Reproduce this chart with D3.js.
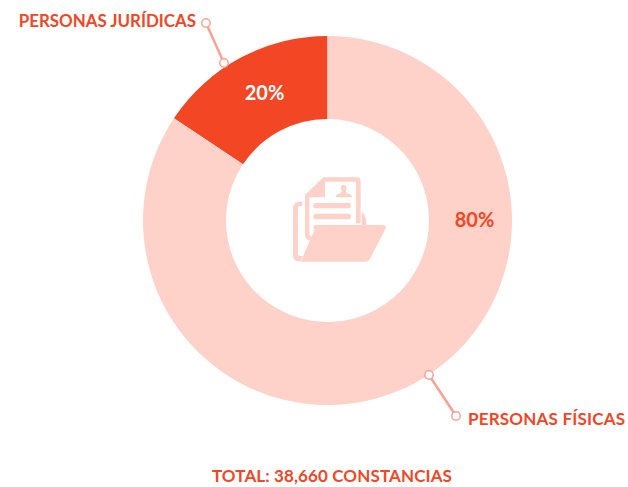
<!DOCTYPE html>
<html><head><meta charset="utf-8">
<script src="https://cdn.jsdelivr.net/npm/d3@7"></script>
<style>html,body{margin:0;padding:0;background:#fff}svg{display:block}text{font-family:Lato,sans-serif;font-weight:700}</style>
</head><body><svg id="c" width="628" height="487"></svg>
<script>
const categories = ["PERSONAS JURÍDICAS", "PERSONAS FÍSICAS"];
const drawnShares = [15.65, 84.35];
const percentLabels = ["20%", "80%"];
const sliceColors = ["#F24624", "#FED2C9"];
const labelColors = ["#FFFFFF", "#F24624"];
const totalLabel = "TOTAL: 38,660 CONSTANCIAS";

const W = 628, H = 487, cx = 327.5, cy = 220.5, R = 184.5, r = 101.5;
const svg = d3.select("#c");
const g = svg.append("g").attr("transform", `translate(${cx},${cy})`);
const pie = d3.pie().sort(null)(drawnShares);
const shift = -2 * Math.PI * drawnShares[0] / d3.sum(drawnShares);
const arc = d3.arc().innerRadius(r).outerRadius(R);
const arcs = pie.map(d => ({...d, startAngle: d.startAngle + shift, endAngle: d.endAngle + shift}));
g.selectAll("path.slice").data(arcs).join("path").attr("class","slice")
  .attr("d", arc).attr("fill", (d,i) => sliceColors[i]);

const labelPos = [[264.5, 92.5], [474.5, 219.5]];
svg.selectAll("text.pct").data(percentLabels).join("text").attr("class","pct")
  .attr("x",(d,i)=>labelPos[i][0]).attr("y",(d,i)=>labelPos[i][1]).attr("dy","0.35em")
  .attr("text-anchor","middle").attr("font-size",20)
  .attr("fill",(d,i)=>labelColors[i]).text(d=>d);

const leaders = [[206,23,224,63],[456,416,429,375]];
const lc = "#F9A294";
const lg = svg.append("g");
lg.selectAll("line").data(leaders).join("line")
  .attr("x1",d=>d[0]).attr("y1",d=>d[1]).attr("x2",d=>d[2]).attr("y2",d=>d[3])
  .attr("stroke",lc).attr("stroke-width",2.5);
lg.selectAll("circle").data(leaders.flatMap(d=>[[d[0],d[1]],[d[2],d[3]]])).join("circle")
  .attr("cx",d=>d[0]).attr("cy",d=>d[1]).attr("r",4.2).attr("fill","#fff")
  .attr("stroke",lc).attr("stroke-width",1.5);

svg.append("text").attr("x",196).attr("y",21).attr("dy","0.35em").attr("text-anchor","end")
  .attr("font-size",16.9).attr("fill","#F24624").text(categories[0]);
svg.append("text").attr("x",468).attr("y",419.5).attr("dy","0.35em")
  .attr("font-size",17).attr("letter-spacing",0.2).attr("fill","#F24624").text(categories[1]);
svg.append("text").attr("x",332).attr("y",476.5).attr("dy","0.35em").attr("text-anchor","middle")
  .attr("font-size",17).attr("letter-spacing",0.12).attr("fill","#F24624").text(totalLabel);

const ic = svg.append("g").attr("transform","translate(270,160) scale(0.3333)").attr("fill","#FED2C9");
ic.append("path").attr("d","M160 52 L260 52 Q272 52 272 64 L272 190 L258 190 L258 65 L165 65 L165 112 L118 112 L118 222 Q118 228 128 230 L122 242 Q105 240 105 222 L105 105 Z");
ic.append("path").attr("d","M97 125 L97 138 L88 138 Q84 138 84 144 L84 282 Q84 288 90 288 L98 288 L92 304 L86 304 Q69 304 69 286 L69 145 Q69 125 89 125 Z");
ic.append("path").attr("d","M145 195 L338 195 Q352 195 346 208 L300 296 Q296 305 285 305 L92 305 L138 200 Q140 195 145 195 Z");
ic.append("path").attr("d","M275 155 Q289 162 289 195 L275 195 Z");
ic.append("circle").attr("cx",221).attr("cy",84).attr("r",9);
ic.append("path").attr("d","M216 90 L226 90 L230 100 Q246 102 246 112 L197 112 Q197 102 212 100 Z");
[[130,129,113,16],[130,161,113,17]].forEach(b=>ic.append("rect").attr("x",b[0]).attr("y",b[1]).attr("width",b[2]).attr("height",b[3]).attr("rx",8));
ic.append("path").attr("d","M130 202 Q130 195 138 195 L145 195 L138 212 Q130 210 130 202 Z");
</script></body></html>
